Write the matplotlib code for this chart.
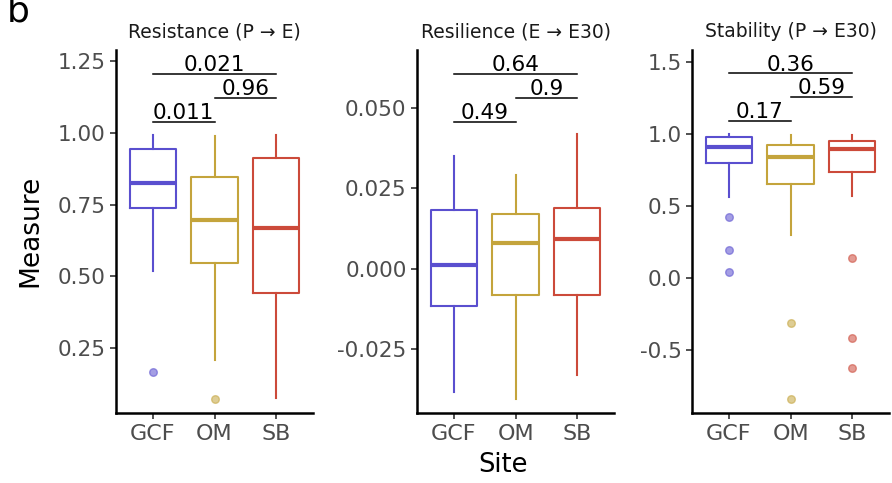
import numpy as np
import matplotlib
matplotlib.use('Agg')
import matplotlib.pyplot as plt

plt.rcParams['font.family'] = ['DejaVu Sans']

sites = ['GCF', 'OM', 'SB']
colors = ['#5a4fcf', '#c4a43c', '#cc4a3a']

titles = ['Resistance (P → E)', 'Resilience (E → E30)', 'Stability (P → E30)']

# box stats per site
res_q1 = [0.738, 0.546, 0.440]
res_med = [0.825, 0.696, 0.668]
res_q3 = [0.944, 0.846, 0.913]
res_lo = [0.517, 0.208, 0.075]
res_hi = [0.993, 0.990, 0.993]
res_out = [[0.166], [0.072], []]

resl_q1 = [-0.0118, -0.0081, -0.0081]
resl_med = [0.0012, 0.0078, 0.0093]
resl_q3 = [0.0181, 0.0171, 0.0187]
resl_lo = [-0.0384, -0.0406, -0.0330]
resl_hi = [0.0350, 0.0290, 0.0417]
resl_out = [[], [], []]

stab_q1 = [0.800, 0.650, 0.736]
stab_med = [0.910, 0.840, 0.896]
stab_q3 = [0.979, 0.924, 0.951]
stab_lo = [0.560, 0.300, 0.565]
stab_hi = [0.995, 0.990, 0.990]
stab_out = [[0.424, 0.19, 0.04], [-0.31, -0.84], [0.14, -0.417, -0.625]]

# pairwise p-values: (site a, site b, label, height)
res_p = [('GCF', 'OM', '0.011', 1.038), ('OM', 'SB', '0.96', 1.122), ('GCF', 'SB', '0.021', 1.206)]
resl_p = [('GCF', 'OM', '0.49', 0.0456), ('OM', 'SB', '0.9', 0.0531), ('GCF', 'SB', '0.64', 0.0606)]
stab_p = [('GCF', 'OM', '0.17', 1.09), ('OM', 'SB', '0.59', 1.257), ('GCF', 'SB', '0.36', 1.42)]

res_ticks = [0.25, 0.50, 0.75, 1.00, 1.25]
resl_ticks = [-0.025, 0.000, 0.025, 0.050]
stab_ticks = [-0.5, 0.0, 0.5, 1.0, 1.5]

panels = [
    (res_q1, res_med, res_q3, res_lo, res_hi, res_out, res_p, res_ticks, (0.023, 1.29), '%.2f'),
    (resl_q1, resl_med, resl_q3, resl_lo, resl_hi, resl_out, resl_p, resl_ticks, (-0.0449, 0.068), '%.3f'),
    (stab_q1, stab_med, stab_q3, stab_lo, stab_hi, stab_out, stab_p, stab_ticks, (-0.9375, 1.583), '%.1f'),
]

fig = plt.figure(figsize=(8.92, 4.83), dpi=100)
lefts = [0.130, 0.4675, 0.7758]
pos = np.arange(1, 4)

for k, (q1, med, q3, lo, hi, out, pv, ticks, ylim, fmt) in enumerate(panels):
    ax = fig.add_axes([lefts[k], 0.145, 0.221, 0.752])
    for i in range(3):
        st = [dict(med=med[i], q1=q1[i], q3=q3[i], whislo=lo[i], whishi=hi[i], fliers=out[i])]
        c = colors[i]
        ax.bxp(st, positions=[pos[i]], widths=0.75, showcaps=False, patch_artist=False,
               boxprops=dict(color=c, linewidth=1.5),
               whiskerprops=dict(color=c, linewidth=1.5),
               medianprops=dict(color=c, linewidth=3),
               flierprops=dict(marker='o', markerfacecolor=c, markeredgecolor=c,
                               markersize=5.5, alpha=0.55))
    for a, b, lab, h in pv:
        x0 = sites.index(a) + 1
        x1 = sites.index(b) + 1
        ax.plot([x0, x1], [h, h], color='black', linewidth=1.1)
        ax.annotate(lab, xy=((x0 + x1) / 2, h), xytext=(0, -1), textcoords='offset points',
                    ha='center', va='bottom', fontsize=15.5, color='black')
    ax.set_xlim(0.4, 3.6)
    ax.set_ylim(*ylim)
    ax.set_xticks(pos)
    ax.set_xticklabels(sites)
    ax.set_yticks(ticks)
    ax.set_yticklabels([fmt % t for t in ticks])
    ax.tick_params(axis='both', labelsize=15.5, colors='#333333', length=4, width=1.2,
                   labelcolor='#4d4d4d')
    ax.tick_params(axis='x', labelsize=16, pad=4)
    for s in ['top', 'right']:
        ax.spines[s].set_visible(False)
    for s in ['left', 'bottom']:
        ax.spines[s].set_linewidth(1.8)
    ax.set_title(titles[k], fontsize=13.5, color='#1a1a1a', pad=9)
    if k == 0:
        ax.set_ylabel('Measure', fontsize=19, labelpad=10)

fig.text(0.564, 0.01, 'Site', fontsize=18.5, ha='center', va='bottom')
fig.text(0.008, 0.955, 'b', fontsize=26, ha='left', va='baseline')

fig.savefig('out.png', dpi=100)
